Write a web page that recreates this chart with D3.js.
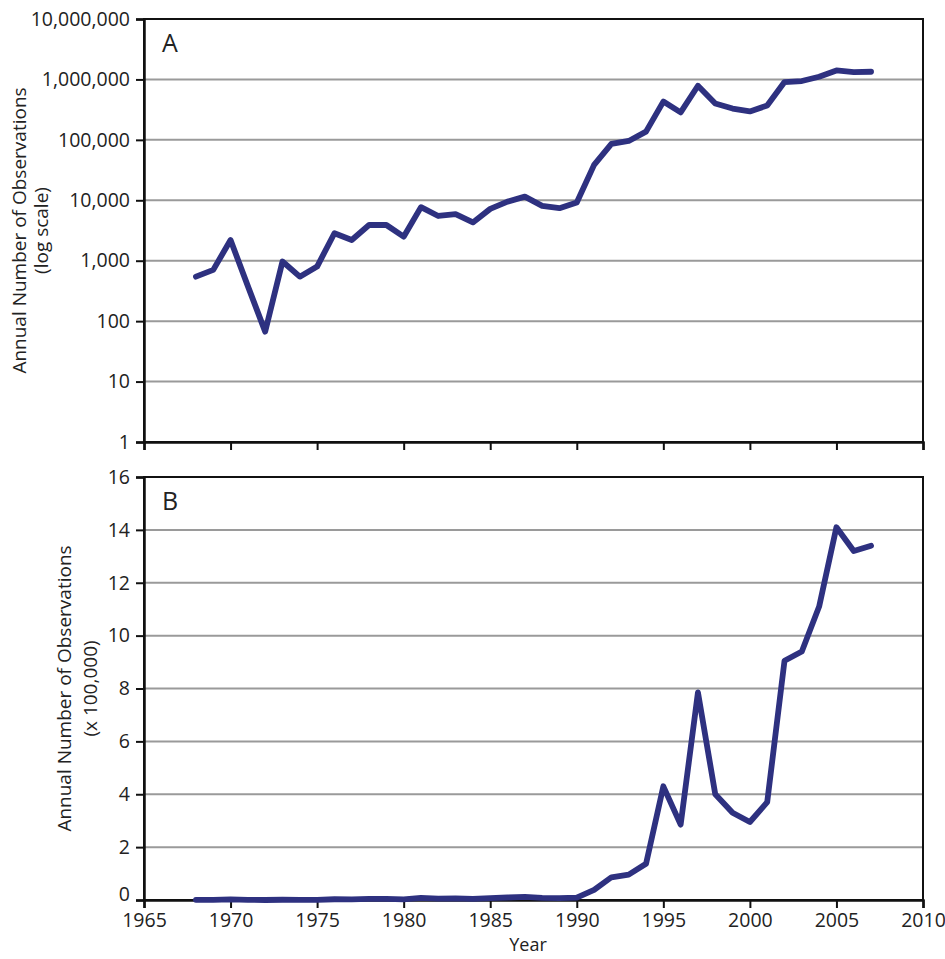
<!DOCTYPE html>
<html>
<head>
<meta charset="utf-8">
<script src="https://cdn.jsdelivr.net/npm/d3@7"></script>
<style>
  html, body { margin: 0; padding: 0; background: #fff; }
  svg text { font-family: "Open Sans", "DejaVu Sans", sans-serif; fill: #222; }
</style>
</head>
<body>
<svg id="chart" width="945" height="959"></svg>
<script>
// ---- data ----
const years = [1968,1969,1970,1971,1972,1973,1974,1975,1976,1977,1978,1979,1980,1981,1982,1983,1984,1985,1986,1987,1988,1989,1990,1991,1992,1993,1994,1995,1996,1997,1998,1999,2000,2001,2002,2003,2004,2005,2006,2007];
const observations = [545,705,2200,380,67,970,545,800,2850,2200,3900,3900,2500,7700,5500,5900,4300,7200,9500,11500,8100,7400,9200,38500,86000,96000,137000,430000,285000,785000,400000,330000,295000,370000,905000,940000,1110000,1410000,1320000,1340000];
const logTicks = [1,10,100,1000,10000,100000,1000000,10000000];
const linTicks = [0,2,4,6,8,10,12,14,16];
const yearTicks = [1965,1970,1975,1980,1985,1990,1995,2000,2005,2010];
const panelLabels = ["A","B"];
const yTitlesA = ["Annual Number of Observations","(log scale)"];
const yTitlesB = ["Annual Number of Observations","(x 100,000)"];
const xTitle = "Year";

const svg = d3.select("#chart");
const left = 144, right = 923;
const lineColor = "#2e3180";
const tickFont = 19.5, titleFont = 19;

const x = d3.scaleLinear().domain([1965, 2010]).range([left, right]);

function panel(cfg) {
  const g = svg.append("g");
  const y = cfg.y;
  // gridlines
  g.append("g").selectAll("line").data(cfg.ticks.slice(1, -1)).join("line")
    .attr("x1", left).attr("x2", right)
    .attr("y1", d => y(d)).attr("y2", d => y(d))
    .attr("stroke", "#9a9a9a").attr("stroke-width", 2);
  // frame
  g.append("rect").attr("x", left).attr("y", cfg.top).attr("width", right - left).attr("height", cfg.bottom - cfg.top)
    .attr("fill", "none").attr("stroke", "#111").attr("stroke-width", 2);
  // y axis
  const ya = d3.axisLeft(y).tickValues(cfg.ticks).tickSize(8).tickPadding(6).tickFormat(cfg.fmt);
  const yg = g.append("g").attr("transform", `translate(${left},0)`).call(ya);
  yg.select(".domain").attr("stroke", "#111").attr("stroke-width", 2.5);
  yg.selectAll(".tick line").attr("stroke", "#111").attr("stroke-width", 2);
  yg.selectAll(".tick text").attr("font-size", tickFont).attr("fill", "#222")
    .attr("font-family", '"Open Sans", sans-serif');
  if (cfg.liftZero) {
    yg.selectAll(".tick text").filter(d => d === 0).attr("dy", "0.05em");
  }
  // x axis
  const xa = d3.axisBottom(x).tickValues(yearTicks).tickSize(8).tickPadding(5)
    .tickFormat(cfg.showX ? d3.format("d") : () => "");
  const xg = g.append("g").attr("transform", `translate(0,${cfg.bottom})`).call(xa);
  xg.select(".domain").attr("stroke", "#111").attr("stroke-width", 2.5);
  xg.selectAll(".tick line").attr("stroke", "#111").attr("stroke-width", 2);
  xg.selectAll(".tick text").attr("font-size", tickFont).attr("fill", "#222")
    .attr("font-family", '"Open Sans", sans-serif');
  // line
  const line = d3.line().x((d, i) => x(years[i])).y(d => y(cfg.value(d)));
  g.append("path").datum(observations).attr("d", line)
    .attr("fill", "none").attr("stroke", lineColor).attr("stroke-width", 5.8)
    .attr("stroke-linejoin", "round").attr("stroke-linecap", "round");
  // panel label
  g.append("text").attr("x", left + 18).attr("y", cfg.top + 33).attr("font-size", 25).text(cfg.label);
  // y title
  const cy = (cfg.top + cfg.bottom) / 2;
  cfg.titles.forEach((t, i) => {
    g.append("text").attr("transform", `translate(${cfg.titleX[i]},${cy}) rotate(-90)`)
      .attr("text-anchor", "middle").attr("font-size", titleFont).text(t);
  });
}

panel({
  top: 19, bottom: 442, ticks: logTicks,
  y: d3.scaleLog().domain([1, 10000000]).range([442, 19]),
  fmt: d3.format(","), value: d => d, showX: false, label: panelLabels[0],
  titles: yTitlesA, titleX: [26, 48]
});
panel({
  top: 477, bottom: 900, ticks: linTicks,
  y: d3.scaleLinear().domain([0, 16]).range([900, 477]),
  fmt: d3.format("d"), value: d => d / 100000, showX: true, label: panelLabels[1],
  titles: yTitlesB, titleX: [71, 97], liftZero: true
});

svg.append("text").attr("x", 528).attr("y", 951).attr("text-anchor", "middle")
  .attr("font-size", 18).text(xTitle);
</script>
</body>
</html>
